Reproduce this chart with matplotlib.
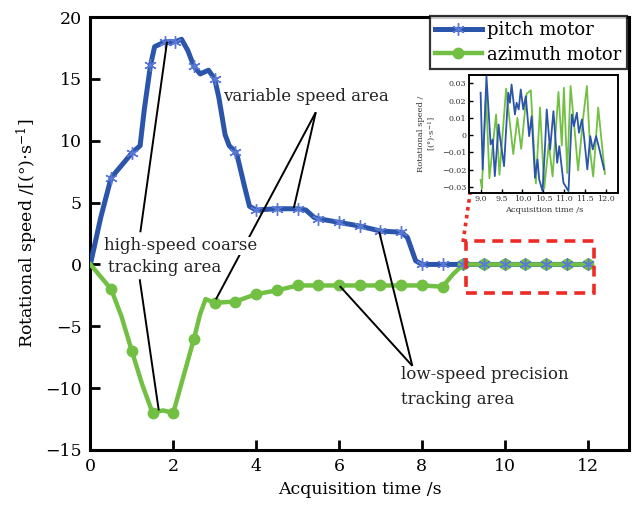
import numpy as np
import matplotlib
matplotlib.use("Agg")
import matplotlib.pyplot as plt
from matplotlib.lines import Line2D
from matplotlib.patches import Rectangle

plt.rcParams['font.family'] = ['DejaVu Serif']
plt.rcParams['mathtext.fontset'] = 'dejavuserif'

# ---------------- data ----------------
pitch_time = [0, 0.25, 0.5, 0.75, 1.0, 1.2, 1.3, 1.45, 1.55, 1.8, 2.05, 2.2, 2.35, 2.5, 2.65, 2.85,
              3.0, 3.1, 3.25, 3.35, 3.5, 3.55, 3.72, 3.84, 4.0, 4.5, 5.0, 5.2, 5.4, 5.5, 6.0, 6.5,
              7.0, 7.5, 7.65, 7.85, 8.0, 8.5, 9.0, 9.5, 10.0, 10.5, 11.0, 11.5, 12.0]
pitch_speed = [0, 3.8, 7.0, 8.0, 9.0, 9.6, 12.5, 16.1, 17.6, 18.0, 18.0, 18.2, 17.3, 16.0, 15.4, 15.7,
               15.0, 13.5, 10.5, 9.6, 9.1, 8.7, 6.3, 4.7, 4.4, 4.5, 4.5, 4.4, 3.8, 3.7, 3.4, 3.1,
               2.7, 2.6, 2.2, 0.3, 0, 0, 0, 0, 0, 0, 0, 0, 0]
pitch_marker_times = [0.5, 1.0, 1.45, 1.8, 2.05, 2.5, 3.0, 3.5, 4.0, 4.5, 5.0, 5.5, 6.0, 6.5, 7.0, 7.5,
                      8.0, 8.5, 9.0, 9.5, 10.0, 10.5, 11.0, 11.5, 12.0]

azimuth_time = [0, 0.5, 0.75, 1.0, 1.25, 1.5, 1.75, 2.0, 2.25, 2.5, 2.65, 2.78, 3.0, 3.5, 4.0, 4.5,
                5.0, 5.5, 6.0, 6.5, 7.0, 7.5, 8.0, 8.5, 8.75, 9.0, 9.5, 10.0, 10.5, 11.0, 11.5, 12.0]
azimuth_speed = [0, -2.0, -4.2, -7.0, -9.7, -12.0, -11.8, -12.0, -9.0, -6.0, -4.0, -2.8, -3.1, -3.0,
                 -2.4, -2.1, -1.7, -1.7, -1.7, -1.7, -1.7, -1.7, -1.7, -1.8, -0.8, 0, 0, 0, 0, 0, 0, 0]
azimuth_marker_times = [0.5, 1.0, 1.5, 2.0, 2.5, 3.0, 3.5, 4.0, 4.5, 5.0, 5.5, 6.0, 6.5, 7.0, 7.5,
                        8.0, 8.5, 9.0, 9.5, 10.0, 10.5, 11.0, 11.5, 12.0]

# inset (zoomed 9-12 s)
inset_pitch_t = [9.0, 9.05, 9.14, 9.24, 9.29, 9.34, 9.43, 9.46, 9.56, 9.66, 9.70, 9.74, 9.82, 9.86,
                 9.91, 9.96, 10.02, 10.08, 10.16, 10.22, 10.30, 10.36, 10.40, 10.48, 10.54, 10.58,
                 10.66, 10.74, 10.83, 10.88, 10.98, 11.10, 11.18, 11.23, 11.30, 11.35, 11.42, 11.47,
                 11.55, 11.62, 11.68, 11.76, 11.82, 11.95]
inset_pitch_v = [0.0246, -0.020, 0.034, -0.0054, -0.0025, -0.0238, 0.0062, -0.0006, -0.018, 0.0246,
                 0.0188, 0.0294, 0.012, 0.0188, 0.0149, 0.0265, 0.0149, 0.0226, -0.0006, 0.011,
                 -0.0248, -0.0141, -0.0257, -0.0325, -0.0064, 0.0149, -0.0084, 0.0139, -0.0161,
                 -0.0064, -0.0277, -0.0325, 0.012, 0.0052, 0.013, 0.0014, 0.0091, -0.0006, -0.0199,
                 -0.0006, -0.0083, -0.0006, -0.0064, -0.0199]
inset_azimuth_t = [9.0, 9.03, 9.13, 9.21, 9.37, 9.45, 9.61, 9.78, 9.88, 9.97, 10.10, 10.20, 10.32,
                   10.42, 10.52, 10.63, 10.72, 10.86, 10.94, 10.99, 11.07, 11.15, 11.25, 11.33,
                   11.45, 11.54, 11.62, 11.69, 11.81, 11.97]
inset_azimuth_v = [-0.026, -0.031, 0.024, -0.025, 0.012, -0.023, 0.027, -0.011, 0.010, -0.008,
                   0.024, 0.026, -0.028, 0.016, -0.031, -0.005, -0.024, 0.025, -0.006, 0.0275,
                   -0.022, 0.0285, 0.002, -0.0205, 0.010, 0.0285, -0.010, -0.024, 0.016, -0.0225]

main_xticks = [0, 2, 4, 6, 8, 10, 12]
main_yticks = [-15, -10, -5, 0, 5, 10, 15, 20]
inset_xticks = [9.0, 9.5, 10.0, 10.5, 11.0, 11.5, 12.0]
inset_xticklabels = ["9.0", "9.5", "10.0", "10.5", "11.0", "11.5", "12.0"]
inset_yticks = [-0.03, -0.02, -0.01, 0, 0.01, 0.02, 0.03]
inset_yticklabels = ["\u22120.03", "\u22120.02", "\u22120.01", "0", "0.01", "0.02", "0.03"]

BLUE = '#2b55aa'
BLUE_M = '#5a78d6'
GREEN = '#72c043'

W, H = 634, 507
fig = plt.figure(figsize=(W / 100, H / 100), dpi=100)

def fx(px):
    return px / W

def fy(py):
    return 1 - py / H

ax = fig.add_axes([fx(90.4), fy(450), fx(629) - fx(90.4), fy(17) - fy(450)])

pitch_idx = [pitch_time.index(t) for t in pitch_marker_times]
az_idx = [azimuth_time.index(t) for t in azimuth_marker_times]

ax.plot(pitch_time, pitch_speed, color=BLUE, lw=3.6, solid_capstyle='round',
        solid_joinstyle='round', zorder=3)
ax.plot(pitch_time, pitch_speed, ls='none', marker=(6, 2, 0), ms=9, mew=1.0,
        mec=BLUE_M, markevery=pitch_idx, zorder=4)
ax.plot(azimuth_time, azimuth_speed, color=GREEN, lw=3.2, marker='o', ms=7.5,
        mfc=GREEN, mec=GREEN, markevery=az_idx, solid_joinstyle='round', zorder=3.5)

ax.set_xlim(0, 13)
ax.set_ylim(-15, 20)
ax.set_xticks(main_xticks)
ax.set_yticks(main_yticks)
ax.tick_params(direction='in', length=7, width=2, labelsize=12.5, top=False, right=False, pad=6)
for s in ax.spines.values():
    s.set_linewidth(2.2)
ax.set_xlabel("Acquisition time /s", fontsize=12.5, labelpad=4)
ax.set_ylabel(r"Rotational speed /[(°)$\cdot$s$^{-1}$]", fontsize=12.5, labelpad=4)

# annotations
def dline(x0, y0, x1, y1):
    ax.plot([x0, x1], [y0, y1], color='black', lw=1.4, zorder=5, solid_capstyle='butt')

dline(1.205, 2.6, 1.85, 18.0)
dline(1.19, -1.2, 1.65, -11.8)
dline(5.44, 12.3, 4.91, 4.57)
dline(5.44, 12.3, 3.03, -2.82)
dline(7.77, -8.2, 6.97, 2.65)
dline(7.77, -8.2, 6.02, -1.75)

tfs = 12
ax.text(3.2, 13.55, "variable speed area", fontsize=tfs, ha='left', va='center', zorder=6,
        color='#222222')
ax.text(0.33, 1.5, "high-speed coarse", fontsize=tfs, ha='left', va='center', zorder=6,
        color='#222222', bbox=dict(fc='white', ec='none', pad=0.5))
ax.text(0.43, -0.25, "tracking area", fontsize=tfs, ha='left', va='center', zorder=6,
        color='#222222', bbox=dict(fc='white', ec='none', pad=0.5))
ax.text(7.5, -8.9, "low-speed precision", fontsize=tfs, ha='left', va='center', zorder=6,
        color='#222222')
ax.text(7.5, -10.9, "tracking area", fontsize=tfs, ha='left', va='center', zorder=6,
        color='#222222')

# red dashed box
ax.add_patch(Rectangle((9.06, -2.28), 3.1, 4.16, fill=False, ec='#ee2a24', lw=2.6,
                       ls=(0, (3, 2)), zorder=6, clip_on=False))
fig.add_artist(Line2D([fx(463), fx(470)], [fy(242), fy(194)], color='#ee2a24', lw=2.6,
                      ls=(0, (1, 1.2)), transform=fig.transFigure))

# legend
handles = [Line2D([], [], color=BLUE, lw=3.6, marker=(6, 2, 0), ms=9, mec=BLUE_M, mew=1.0),
           Line2D([], [], color=GREEN, lw=3.2, marker='o', ms=7.5, mfc=GREEN, mec=GREEN)]
leg = fig.legend(handles, ["pitch motor", "azimuth motor"], loc='upper right',
                 bbox_to_anchor=(fx(627), fy(16)), bbox_transform=fig.transFigure,
                 fontsize=13, frameon=True, fancybox=False, edgecolor='black',
                 handlelength=2.6, handletextpad=0.3, labelspacing=0.35, borderpad=0.3,
                 borderaxespad=0)
leg.get_frame().set_linewidth(1.6)

# inset
ins = fig.add_axes([fx(469.3), fy(192.5), fx(618.3) - fx(469.3), fy(75) - fy(192.5)])
ins.plot(inset_pitch_t, inset_pitch_v, color=BLUE, lw=1.3, zorder=3, solid_joinstyle='round')
ins.plot(inset_azimuth_t, inset_azimuth_v, color=GREEN, lw=1.3, zorder=2, solid_joinstyle='round')
ins.set_xlim(8.73, 12.29)
ins.set_ylim(-0.0333, 0.0349)
ins.set_xticks(inset_xticks)
ins.set_xticklabels(inset_xticklabels)
ins.set_yticks(inset_yticks)
ins.set_yticklabels(inset_yticklabels)
ins.tick_params(direction='in', length=3, width=1, labelsize=5.8, pad=2, colors='black',
                labelcolor='#333333')
for s in ins.spines.values():
    s.set_linewidth(1.4)
ins.set_xlabel("Acquisition time /s", fontsize=6, labelpad=2, color='#333333')
ins.set_ylabel("Rotational speed /\n" + r"[(°)$\cdot$s$^{-1}$]", fontsize=6, labelpad=3,
               color='#333333')

fig.savefig("out.png", dpi=100)
